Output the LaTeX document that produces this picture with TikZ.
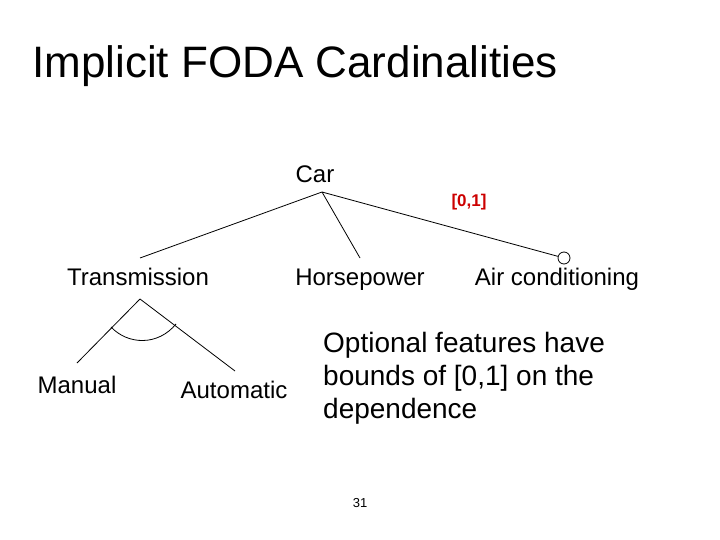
\documentclass[tikz,border=0pt]{standalone}
\usepackage{fontspec}
\setmainfont{Liberation Sans}
\begin{document}
\begin{tikzpicture}[x=1pt,y=-1pt,
  lbl/.style={inner sep=0pt,anchor=base,font=\fontsize{24}{28}\selectfont},
  ln/.style={line width=0.8pt}]
\useasboundingbox (0,0) rectangle (720,540);
\node[inner sep=0pt,anchor=base west,font=\fontsize{44}{50}\selectfont] (title) at (32,78) {Implicit FODA Cardinalities};
\node[lbl] (car) at (315,183) {Car};
\node[lbl] (tr) at (138,285) {Transmission};
\node[lbl] (hp) at (360,285) {Horsepower};
\node[lbl] (ac) at (557,285) {Air conditioning};
\node[lbl] (man) at (77,393) {Manual};
\node[lbl] (aut) at (234,398) {Automatic};
\node[inner sep=0pt,font=\bfseries\fontsize{17}{20}\selectfont,text={rgb,255:red,204;green,0;blue,0}] (card) at (469,202) {[0,1]};
\node[inner sep=0pt,anchor=north west,align=left,font=\fontsize{28}{33}\selectfont] (note) at (323,332) {Optional features have\\bounds of [0,1] on the\\dependence};
\node[inner sep=0pt,font=\fontsize{13}{15}\selectfont] (pg) at (360,503) {31};
\coordinate (ca) at (322,192);
\coordinate (ta) at (140,258);
\coordinate (ha) at (360,258);
\node[circle,draw,line width=0.8pt,minimum size=12pt,inner sep=0pt] (opt) at (564,258) {};
\coordinate (tp) at (140,299);
\coordinate (me) at (77,363);
\coordinate (ae) at (235,371);
\draw[ln] (ca) -- (ta);
\draw[ln] (ca) -- (ha);
\draw[ln] (ca) -- (opt);
\draw[ln] (tp) -- (me);
\draw[ln] (tp) -- (ae);
\draw[ln] (111,327) .. controls (128,345) and (158,346) .. (176,324);
\end{tikzpicture}
\end{document}
